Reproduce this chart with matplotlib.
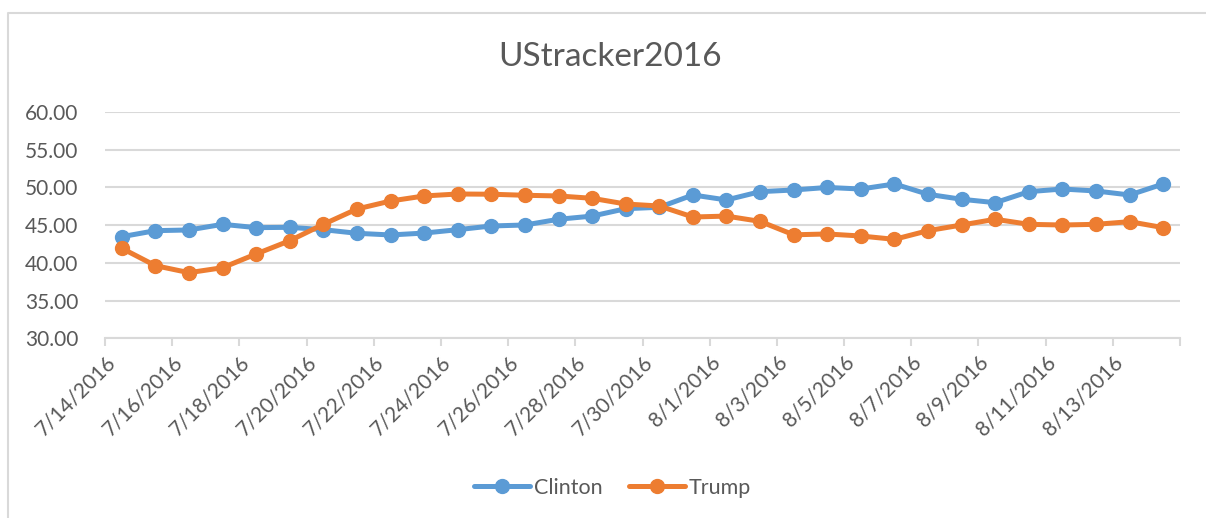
import matplotlib
matplotlib.use("Agg")
from matplotlib import pyplot as plt
from matplotlib.lines import Line2D
from matplotlib.transforms import ScaledTranslation
import numpy as np
import datetime as dt

plt.rcParams['font.family'] = ['Lato', 'DejaVu Sans']

# data
start = dt.date(2016, 7, 14)
dates = [start + dt.timedelta(days=i) for i in range(32)]
clinton = [43.47, 44.27, 44.36, 45.11, 44.67, 44.71, 44.40, 43.92, 43.70, 43.95,
           44.40, 44.89, 45.02, 45.78, 46.20, 47.18, 47.37, 49.00, 48.34, 49.44,
           49.66, 50.00, 49.79, 50.46, 49.09, 48.43, 47.98, 49.44, 49.79, 49.53,
           49.00, 50.46]
trump = [41.93, 39.63, 38.70, 39.36, 41.18, 42.94, 45.11, 47.14, 48.20, 48.87,
         49.13, 49.10, 48.96, 48.87, 48.56, 47.80, 47.54, 46.08, 46.20, 45.50,
         43.72, 43.83, 43.56, 43.12, 44.27, 45.02, 45.78, 45.11, 45.02, 45.11,
         45.46, 44.67]
labels = ['%d/%d/%d' % (d.month, d.day, d.year) for d in dates]

blue = '#5B9BD5'
orange = '#ED7D31'
grid = '#D9D9D9'
txt = '#595959'

fig = plt.figure(figsize=(12.06, 5.18), dpi=100)
ax = fig.add_axes([105/1206, 1 - 338.3/518, (1180 - 105)/1206, (338.3 - 112)/518])

# chart frame: only the left and top edges are inside the picture
fx, fy = 8/1206, 1 - 13/518
fig.lines.append(Line2D([fx, fx, 1.0], [0.0, fy, fy], transform=fig.transFigure,
                        color=grid, linewidth=1.5, zorder=0))

x = np.arange(len(dates))
ax.plot(x, clinton, color=blue, lw=3.6, marker='o', ms=10, label='Clinton',
        solid_capstyle='round', zorder=3)
ax.plot(x, trump, color=orange, lw=3.6, marker='o', ms=10, label='Trump',
        solid_capstyle='round', zorder=3)

ax.set_xlim(-0.5, len(dates) - 0.5)
ax.set_ylim(30, 60)
ax.set_yticks(np.arange(30, 61, 5))
ax.set_yticklabels(['%.2f' % v for v in np.arange(30, 61, 5)])
ax.yaxis.grid(True, color=grid, linewidth=1.5)
ax.set_axisbelow(True)

ticks = np.arange(-0.5, len(dates), 2)
ax.set_xticks(ticks)
ax.set_xticklabels([labels[i] for i in range(0, len(dates), 2)] + [''] * (len(ticks) - 16),
                   rotation=45, ha='right', rotation_mode='anchor')
shift = ScaledTranslation(9/100, -1/100, fig.dpi_scale_trans)
for lab in ax.get_xticklabels():
    lab.set_transform(lab.get_transform() + shift)

for s in ['top', 'right', 'left']:
    ax.spines[s].set_visible(False)
ax.spines['bottom'].set_color(grid)
ax.spines['bottom'].set_linewidth(1.5)
ax.tick_params(axis='y', length=0, pad=19, labelsize=15, labelcolor=txt)
ax.tick_params(axis='x', length=6, width=1.5, color=grid, labelsize=15, labelcolor=txt, pad=4)

fig.text(0.506, 1 - 57/518, 'UStracker2016', ha='center', va='center', fontsize=24, color=txt)

fig.legend(loc='center', bbox_to_anchor=(0.508, 1 - 488/518), ncol=2, frameon=False,
           fontsize=15.5, labelcolor=txt, handlelength=2.6, columnspacing=1.2, handletextpad=0.2)

fig.savefig('out.png', dpi=100)
